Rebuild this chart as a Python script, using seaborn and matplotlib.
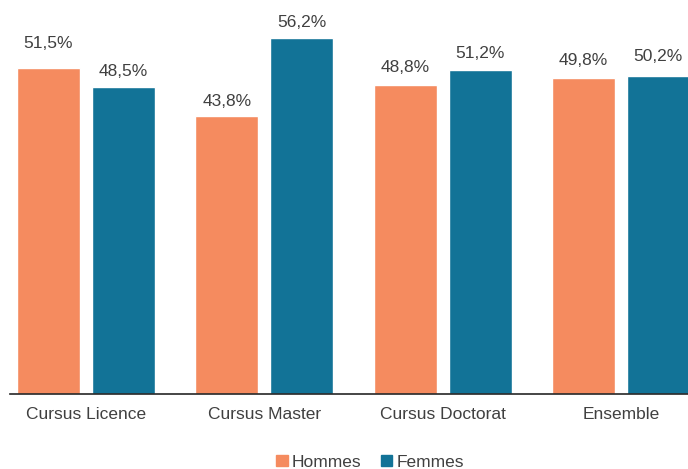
import matplotlib
matplotlib.use("Agg")
import matplotlib.pyplot as plt
import seaborn as sns
import pandas as pd
from matplotlib.patches import Patch

categories = ["Cursus Licence", "Cursus Master", "Cursus Doctorat", "Ensemble"]
hommes = [51.5, 43.8, 48.8, 49.8]
femmes = [48.5, 56.2, 51.2, 50.2]
series = ["Hommes", "Femmes"]
colors = ["#F58B5F", "#127397"]
# vertical distance (px) from bar top to label centre, as placed in the original
label_gap_px = [[24, 15, 17, 18], [15, 15, 16, 19]]

df = pd.DataFrame({
    "cat": categories * 2,
    "val": hommes + femmes,
    "sexe": [series[0]] * 4 + [series[1]] * 4,
})

sns.set_theme(style="white")
plt.rcParams["font.family"] = ["Liberation Sans", "DejaVu Sans"]

fig = plt.figure(figsize=(6.88, 4.69), dpi=100)
ax = fig.add_axes([10 / 688, 1 - 393.5 / 469, 1 - 10 / 688, 393.5 / 469])
sns.barplot(data=df, x="cat", y="val", hue="sexe", palette=colors,
            width=0.84, gap=0.16, ax=ax, legend=False, saturation=1)

ax.set_xlim(-0.426, 3.376)
ax.set_ylim(0, 62.2)
for si, c in enumerate(ax.containers):
    for bi, (bar, v) in enumerate(zip(c.patches, c.datavalues)):
        x = bar.get_x() + bar.get_width() / 2
        ax.annotate(f"{v:.1f}%".replace(".", ","), (x, bar.get_height()),
                    xytext=(0, label_gap_px[si][bi] * 0.72), textcoords="offset points",
                    ha="center", va="center", fontsize=12.5, color="#404040",
                    annotation_clip=False)

ax.set_xlabel("")
ax.set_ylabel("")
ax.set_yticks([])
ax.tick_params(axis="x", length=0, pad=10, labelsize=12.5, labelcolor="#404040")
for s in ["top", "right", "left"]:
    ax.spines[s].set_visible(False)
ax.spines["bottom"].set_color("#262626")
ax.spines["bottom"].set_linewidth(1.2)

handles = [Patch(color=colors[0], label=series[0]), Patch(color=colors[1], label=series[1])]
fig.legend(handles=handles, loc="center", bbox_to_anchor=(370 / 688, 1 - 462 / 469),
           ncol=2, frameon=False, fontsize=12.5, handlelength=0.65, handleheight=0.65,
           handletextpad=0.25, columnspacing=1.1, labelcolor="#404040")

fig.savefig("out.png", dpi=100)
